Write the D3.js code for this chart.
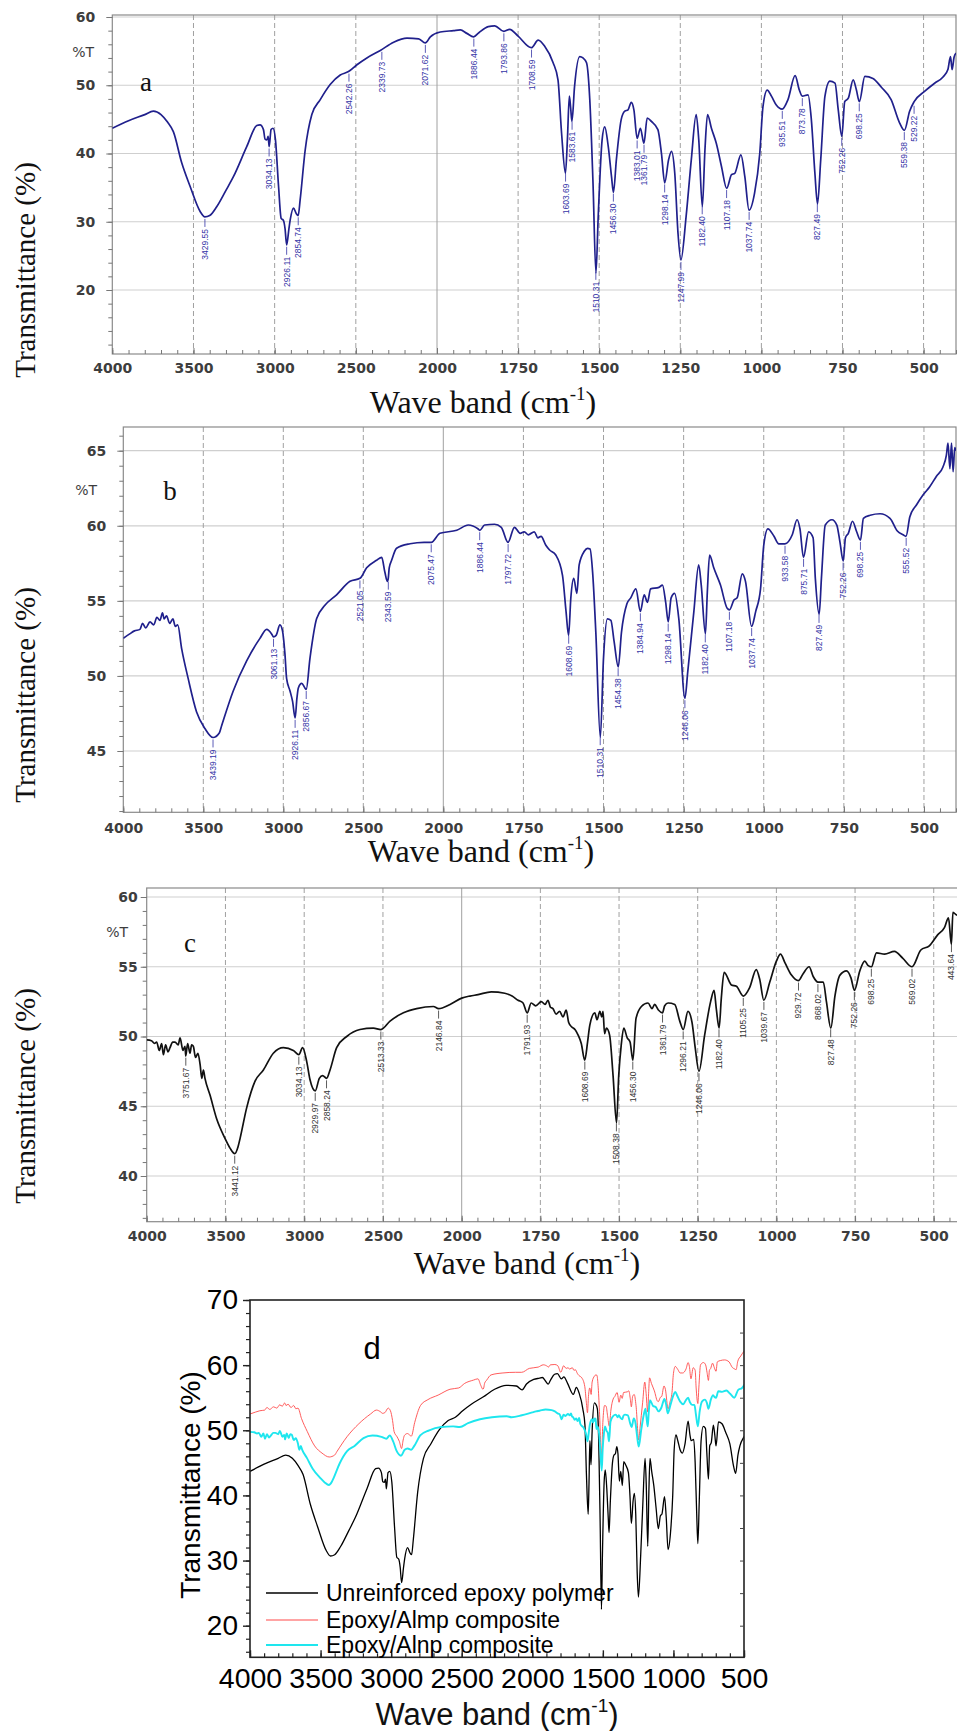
<!DOCTYPE html>
<html>
<head>
<meta charset="utf-8">
<script src="https://cdn.jsdelivr.net/npm/d3@7"></script>
<style>
body { margin: 0; background: #fff; }
svg { display: block; }
</style>
</head>
<body>
<div id="chart"></div>
<script>
// FTIR spectra: [wavenumber cm-1, %T]
var specA = [[4000,43.7],[3900,44.8],[3800,45.7],[3747,46.2],[3700,45.7],[3660,44.6],[3624,43.2],[3572,38.6],[3521,35.2],[3459,31.5],[3430,30.7],[3400,30.9],[3357,32.2],[3300,34.6],[3254,36.6],[3172,41],[3110,44.1],[3090,44.2],[3069,43.5],[3059,42.1],[3048,42.0],[3040,42.5],[3034,41.0],[3022,43.5],[3010,43.7],[2995,42],[2976,35.2],[2960,30.5],[2946,30.2],[2936,29],[2926,26.6],[2912,29],[2904,30.3],[2884,32],[2867,31.2],[2855,30.9],[2843,33.2],[2812,40.5],[2771,45.7],[2719,47.9],[2658,50.1],[2596,51.5],[2545,52],[2493,53],[2432,54],[2349,55.1],[2267,56.3],[2185,56.9],[2113,56.8],[2072,56.2],[2041,57.1],[1990,57.8],[1949,58],[1928,58.1],[1908,57.6],[1887,57.1],[1871,57.7],[1842,58.6],[1822,58.7],[1794,57.9],[1776,58.2],[1750,57.2],[1709,55.5],[1688,56.6],[1668,55.7],[1642,53.3],[1627,50.8],[1616,43],[1604,37.1],[1598,42],[1592,48.4],[1588,46.7],[1584,44.7],[1576,49.8],[1560,54.2],[1550,54],[1539,53.3],[1529,47.9],[1519,35.6],[1510,22.5],[1503,30.8],[1491,42],[1483,43.9],[1472,41],[1462,36.6],[1456,34.3],[1447,39.1],[1432,45],[1421,46.2],[1411,46.4],[1401,47.5],[1393,46.4],[1383,42.2],[1373,43.7],[1362,41.5],[1352,45.2],[1339,44.7],[1319,43.5],[1308,40],[1298,35.7],[1286,39.1],[1277,40.3],[1267,37.1],[1257,28.3],[1248,24.4],[1232,30.8],[1216,39.1],[1201,45.7],[1193,42],[1182,32.2],[1174,40.5],[1166,45.7],[1154,43.7],[1139,41.5],[1123,38.1],[1107,34.9],[1092,36.9],[1082,37.1],[1063,39.8],[1051,36.6],[1038,31.7],[1021,34.2],[1005,40],[995,46.9],[982,49.3],[969,48.4],[954,47.1],[936,46.5],[918,47.9],[896,51.4],[883,49.3],[874,48.4],[856,48.6],[846,45],[835,37.1],[827,32.6],[817,39.1],[804,48.4],[789,50.6],[773,50.3],[763,46.4],[752,42.5],[743,47.6],[732,48.1],[717,50.8],[707,49.3],[698,47.6],[681,51.3],[656,51],[630,49.7],[600,47.9],[574,44.5],[559,43.4],[543,46.2],[529,47.6],[497,49.1],[466,50.3],[440,51.2],[425,52.3],[417,54.2],[412,52.3],[406,54.1],[400,54.7]];

var specB = [[4000,52.5],[3960,52.8],[3930,53.0],[3896,53.1],[3880,53.5],[3860,53.2],[3833,53.6],[3810,53.4],[3790,53.9],[3771,53.7],[3755,54.2],[3745,53.8],[3730,54.0],[3710,53.5],[3690,53.8],[3675,53.3],[3660,53.4],[3635,51.8],[3594,49.8],[3542,47.6],[3490,46.5],[3439,45.9],[3400,46.2],[3385,46.7],[3313,49],[3229,51],[3146,52.5],[3104,53.1],[3073,52.8],[3061,52.6],[3045,52.7],[3021,53.4],[3005,53.0],[2990,51.5],[2979,49.8],[2958,49],[2942,48.3],[2926,47.2],[2915,48.5],[2906,49.2],[2885,49.5],[2865,49.2],[2857,49.1],[2833,51.2],[2792,53.8],[2740,54.7],[2667,55.4],[2583,56.3],[2521,56.5],[2479,57.2],[2417,57.7],[2385,57.9],[2365,56.9],[2350,56.3],[2344,56.5],[2338,57.2],[2323,57.7],[2292,58.5],[2208,58.8],[2120,58.9],[2075,58.9],[2021,59.5],[1958,59.7],[1922,60.05],[1892,59.8],[1886,59.7],[1871,60.05],[1840,60.1],[1819,59.9],[1798,58.9],[1778,59.9],[1760,59.5],[1747,59.6],[1735,59.4],[1716,59.6],[1705,59.2],[1695,59.3],[1680,58.7],[1669,58.4],[1649,58.05],[1628,56.7],[1617,54.3],[1609,52.7],[1602,55.2],[1593,56.5],[1583,55.5],[1576,57.4],[1560,58.3],[1550,58.5],[1542,58.45],[1534,56.9],[1524,52.9],[1510,45.9],[1500,51.2],[1488,53.8],[1477,53.7],[1467,52.3],[1454,50.6],[1444,52.9],[1427,54.8],[1415,55.2],[1399,55.8],[1385,54.3],[1373,55.4],[1363,54.9],[1353,55.8],[1327,55.9],[1316,56.05],[1306,54.9],[1298,53.6],[1289,55.2],[1278,55.5],[1265,53.8],[1246,48.5],[1237,50.3],[1218,54.3],[1203,57.4],[1195,56.05],[1182,52.8],[1176,55.6],[1169,58.05],[1156,57.2],[1135,56.05],[1114,54.5],[1107,54.4],[1093,55.05],[1083,55.2],[1067,56.8],[1057,56.3],[1038,53.3],[1025,54.3],[1010,55.8],[1000,58.7],[987,59.8],[968,59.3],[953,58.8],[934,58.8],[911,59.4],[896,60.4],[887,59.8],[876,57.9],[860,59.6],[846,59.2],[839,56.5],[827,54.1],[820,56.5],[808,60.05],[787,60.4],[772,60.05],[762,58.9],[752,57.65],[745,59.2],[736,59.5],[723,60.3],[710,59.6],[698,59.05],[689,60.5],[668,60.7],[637,60.8],[606,60.5],[583,59.65],[565,59.4],[556,59.3],[544,60.6],[523,61.4],[503,62.05],[482,62.6],[461,63.3],[441,63.9],[430,64.7],[425,65.5],[419,63.8],[414,65.5],[409,63.6],[404,65.2],[400,65.0]];

var specC = [[4000,49.76],[3970,49.7],[3950,49.5],[3937,49.6],[3920,49.0],[3905,49.5],[3894,48.7],[3880,49.4],[3865,48.9],[3852,49.2],[3835,49.6],[3820,49.6],[3800,49.4],[3788,49.9],[3770,49.0],[3757,49.3],[3752,48.6],[3740,49.5],[3725,48.8],[3715,49.4],[3704,49.3],[3690,48.5],[3675,48.8],[3661,48.0],[3650,47.0],[3640,47.6],[3630,47.0],[3598,45.8],[3556,44.1],[3503,42.7],[3471,42],[3441,41.6],[3420,42.1],[3407,42.7],[3365,44.9],[3312,46.8],[3259,47.6],[3196,48.8],[3132,49.2],[3069,49.0],[3034,48.7],[3010,49.2],[2984,48.2],[2963,46.9],[2930,46.1],[2904,47],[2883,47.2],[2858,47.0],[2836,47.6],[2794,49.2],[2730,50],[2646,50.5],[2561,50.6],[2513,50.5],[2455,51.1],[2370,51.7],[2286,52],[2180,52.15],[2147,52.0],[2074,52.3],[2000,52.75],[1974,52.9],[1948,53.0],[1906,53.2],[1863,53.1],[1840,52.9],[1821,52.6],[1805,52.4],[1792,51.7],[1779,52.4],[1765,52.2],[1747,52.5],[1735,52.3],[1726,52.6],[1718,52.1],[1710,52.0],[1700,51.6],[1689,51.8],[1678,51.4],[1668,51.9],[1660,51.0],[1651,50.7],[1640,50.5],[1630,50.1],[1620,49.5],[1609,48.3],[1600,49.6],[1593,50.8],[1577,51.7],[1570,51.2],[1561,51.8],[1555,51.4],[1551,51.8],[1546,50.2],[1540,50.6],[1530,50.1],[1519,47.2],[1508,43.8],[1501,47.2],[1493,49.4],[1485,50.6],[1474,49.9],[1465,49.6],[1456,48.3],[1446,51.3],[1429,52.15],[1408,52.4],[1395,52.0],[1387,52.3],[1375,51.9],[1362,51.7],[1355,52.2],[1344,52.4],[1323,52.3],[1307,51.1],[1296,50.5],[1281,51.8],[1268,51],[1258,49.2],[1246,47.5],[1228,50.1],[1209,52.5],[1198,53.3],[1191,52.0],[1182,50.6],[1175,52.75],[1166,54.6],[1143,53.7],[1127,53.6],[1105,52.9],[1085,53.5],[1064,54.8],[1053,54.1],[1040,52.6],[1021,53.9],[1000,55.4],[987,55.9],[973,55.3],[952,54.4],[930,54.0],[915,54.5],[896,55.0],[883,54.3],[868,53.9],[851,53.9],[841,52.5],[827,50.6],[814,52.9],[798,54.4],[777,54.7],[763,54.2],[752,53.3],[735,54.7],[719,55.4],[709,55.1],[698,55.0],[682,56.0],[656,55.9],[625,56.1],[598,55.6],[569,55.0],[541,56.2],[514,56.5],[487,57.3],[466,57.8],[453,58.5],[444,56.6],[439,58.9],[426,58.7],[400,58.8]];

// peak annotations printed by the instrument software
var peaksA = ['3429.55','3034.13','2926.11','2854.74','2542.26','2339.73','2071.62','1886.44','1793.86','1708.59','1603.69','1583.61','1510.31','1456.30','1383.01','1361.79','1298.14','1247.99','1182.40','1107.18','1037.74','935.51','873.78','827.49','752.26','698.25','559.38','529.22'];
var peaksB = ['3439.19','3061.13','2926.11','2856.67','2521.05','2343.59','2075.47','1886.44','1797.72','1608.69','1510.31','1454.38','1384.94','1298.14','1246.06','1182.40','1107.18','1037.74','933.58','875.71','827.49','752.26','698.25','555.52'];
var peaksC = ['3751.67','3441.12','3034.13','2929.97','2858.24','2513.33','2146.84','1791.93','1608.69','1508.38','1456.30','1361.79','1296.21','1246.06','1182.40','1105.25','1039.67','929.72','868.02','827.48','752.26','698.25','569.02','443.64'];

var xTicksIR = [4000,3500,3000,2500,2000,1750,1500,1250,1000,750,500];
var yTicksA = [20,30,40,50,60];
var yTicksB = [45,50,55,60,65];
var yTicksC = [40,45,50,55,60];
var xTicksD = [4000,3500,3000,2500,2000,1500,1000,500];
var yTicksD = [20,30,40,50,60,70];
var legendNames = ['Unreinforced epoxy polymer','Epoxy/Almp composite','Epoxy/Alnp composite'];

var W = 957, H = 1731;
var svg = d3.select('#chart').append('svg')
    .attr('width', W)
    .attr('height', H)
    .style('background', 'white');

var fmt = d3.format('d');

function valAt(spec, w) {
    for (var i = 0; i < spec.length - 1; i++) {
        var a = spec[i], b = spec[i + 1];
        if (w <= a[0] && w >= b[0]) {
            var t = (a[0] - w) / (a[0] - b[0]);
            return a[1] + t * (b[1] - a[1]);
        }
    }
    return spec[spec.length - 1][1];
}

function superTitle(g, x, y, font, size, supSize, rise) {
    var t = g.append('text')
        .attr('x', x).attr('y', y)
        .attr('text-anchor', 'middle')
        .style('font-family', font)
        .style('font-size', size + 'px')
        .attr('fill', '#111');
    t.append('tspan').text('Wave band (cm');
    t.append('tspan').attr('dy', -rise).style('font-size', supSize + 'px').text('-1');
    t.append('tspan').attr('dy', rise).text(')');
}

var serif = '"Liberation Serif","Times New Roman",serif';
var tickFont = '"DejaVu Sans",Verdana,sans-serif';

var irPanels = [
    {spec: specA, peaks: peaksA, yTicks: yTicksA, letter: 'a', left: 112.3, x2000: 437, right: 956, top: 15, bottom: 354,
     yRef: [20, 60], yPx: [290, 17], minor: 2, color: '#20208c', labelColor: '#3333a6', yPad: 11, xPad: 9,
     pctT: [94, 57], letterPos: [146, 91], yTitle: [35, 270], xTitle: [483, 413]},
    {spec: specB, peaks: peaksB, yTicks: yTicksB, letter: 'b', left: 123.3, x2000: 443.3, right: 956, top: 427, bottom: 812.3,
     yRef: [45, 65], yPx: [751, 450.7], minor: 1, color: '#20208c', labelColor: '#3333a6', yPad: 11, xPad: 10.5,
     pctT: [97, 495], letterPos: [170, 500], yTitle: [35, 695], xTitle: [481, 862]},
    {spec: specC, peaks: peaksC, yTicks: yTicksC, letter: 'c', left: 146.7, x2000: 461.7, right: 965.2, top: 888, bottom: 1221.7,
     yRef: [40, 60], yPx: [1176, 897], minor: 1, color: '#111', labelColor: '#333', yPad: 3, xPad: 9,
     pctT: [128, 937], letterPos: [190, 952], yTitle: [35, 1096], xTitle: [527, 1274]}
];

irPanels.forEach(function(p, idx) {
    var x = d3.scaleLinear().domain([4000, 2000, 400]).range([p.left, p.x2000, p.right]);
    var y = d3.scaleLinear().domain(p.yRef).range(p.yPx);
    var g = svg.append('g');

    var clipId = 'clipIR' + idx;
    g.append('clipPath').attr('id', clipId)
        .append('rect')
        .attr('x', p.left).attr('y', p.top)
        .attr('width', p.right - p.left).attr('height', p.bottom - p.top);

    // grid
    g.selectAll('.hgrid').data(p.yTicks).enter().append('line')
        .attr('x1', p.left).attr('x2', p.right)
        .attr('y1', function(d) { return y(d); }).attr('y2', function(d) { return y(d); })
        .attr('stroke', '#cfcfcf').attr('stroke-width', 1.2);
    g.selectAll('.vgrid').data(xTicksIR.slice(1)).enter().append('line')
        .attr('x1', function(d) { return x(d); }).attr('x2', function(d) { return x(d); })
        .attr('y1', p.top).attr('y2', p.bottom)
        .attr('stroke', '#a0a0a0')
        .attr('stroke-dasharray', function(d) { return d === 2000 ? null : '5,3'; });

    // frame
    g.append('rect')
        .attr('x', p.left).attr('y', p.top)
        .attr('width', p.right - p.left).attr('height', p.bottom - p.top)
        .attr('fill', 'none').attr('stroke', '#8a8a8a').attr('stroke-width', 1.2);

    // y axis
    var yLo = y.invert(p.bottom), yHi = y.invert(p.top);
    var yMinor = d3.range(Math.ceil(yLo / p.minor) * p.minor, yHi + 0.001, p.minor);
    g.append('g').attr('transform', 'translate(' + p.left + ',0)')
        .call(d3.axisLeft(y).tickValues(yMinor).tickSize(4).tickFormat(''))
        .call(function(a) { a.select('.domain').remove(); a.selectAll('line').attr('stroke', '#777'); });
    g.append('g').attr('transform', 'translate(' + p.left + ',0)')
        .call(d3.axisLeft(y).tickValues(p.yTicks).tickSize(6).tickPadding(p.yPad).tickFormat(fmt))
        .call(function(a) {
            a.select('.domain').remove();
            a.selectAll('line').attr('stroke', '#777');
            a.selectAll('text').style('font-family', tickFont).style('font-size', '14px')
                .style('font-weight', 'bold').attr('fill', '#3d3d3d');
        });

    // x axis (ticks point into the plot)
    var xMinor = d3.range(4000, 2000, -100).concat(d3.range(2000, 399, -50));
    g.append('g').attr('transform', 'translate(0,' + p.bottom + ')')
        .call(d3.axisBottom(x).tickValues(xMinor).tickSize(-4).tickFormat(''))
        .call(function(a) { a.select('.domain').remove(); a.selectAll('line').attr('stroke', '#777'); });
    g.append('g').attr('transform', 'translate(0,' + p.bottom + ')')
        .call(d3.axisBottom(x).tickValues(xTicksIR).tickSize(-6).tickPadding(p.xPad).tickFormat(fmt))
        .call(function(a) {
            a.select('.domain').remove();
            a.selectAll('line').attr('stroke', '#777');
            a.selectAll('text').style('font-family', tickFont).style('font-size', '14px')
                .style('font-weight', 'bold').attr('fill', '#3d3d3d');
        });

    // spectrum
    var line = d3.line()
        .x(function(d) { return x(d[0]); })
        .y(function(d) { return y(d[1]); })
        .curve(d3.curveMonotoneX);
    g.append('path').datum(p.spec)
        .attr('d', line)
        .attr('clip-path', 'url(#' + clipId + ')')
        .attr('fill', 'none')
        .attr('stroke', p.color)
        .attr('stroke-width', 1.7);

    // peak labels
    p.peaks.forEach(function(s) {
        var w = +s;
        var v = Math.min(valAt(p.spec, w), valAt(p.spec, w - 3), valAt(p.spec, w + 3));
        var px = x(w), py = y(v) + 2;
        g.append('line')
            .attr('x1', px).attr('x2', px).attr('y1', py).attr('y2', py + 8)
            .attr('stroke', p.labelColor).attr('stroke-width', 0.8);
        g.append('text')
            .attr('transform', 'translate(' + px + ',' + (py + 10) + ') rotate(-90)')
            .attr('text-anchor', 'end')
            .attr('dy', '0.35em')
            .style('font-family', '"Liberation Sans",Arial,sans-serif')
            .style('font-size', '8.5px')
            .attr('fill', p.labelColor)
            .text(s);
    });

    // labels
    g.append('text')
        .attr('x', p.pctT[0]).attr('y', p.pctT[1])
        .attr('text-anchor', 'end')
        .style('font-family', tickFont).style('font-size', '14px')
        .attr('fill', '#3d3d3d')
        .text('%T');
    g.append('text')
        .attr('x', p.letterPos[0]).attr('y', p.letterPos[1])
        .attr('text-anchor', 'middle')
        .style('font-family', serif).style('font-size', '27px')
        .attr('fill', '#111')
        .text(p.letter);
    g.append('text')
        .attr('transform', 'translate(' + p.yTitle[0] + ',' + p.yTitle[1] + ') rotate(-90)')
        .attr('text-anchor', 'middle')
        .style('font-family', serif).style('font-size', '29px')
        .attr('fill', '#111')
        .text('Transmittance (%)');
    superTitle(g, p.xTitle[0], p.xTitle[1], serif, 32, 19, 13);
});

// panel d: overlay of the three spectra
var dBox = {left: 250, right: 744, top: 1300, bottom: 1657.3};
var xd = d3.scaleLinear().domain([4000, 500]).range([dBox.left, dBox.right]);
var yd = d3.scaleLinear().domain([20, 70]).range([1625.7, dBox.top]);
var gd = svg.append('g');
var sans = '"Liberation Sans",Arial,sans-serif';

gd.append('clipPath').attr('id', 'clipD')
    .append('rect')
    .attr('x', dBox.left).attr('y', dBox.top)
    .attr('width', dBox.right - dBox.left).attr('height', dBox.bottom - dBox.top);

var lineD = d3.line()
    .x(function(d) { return xd(d[0]); })
    .y(function(d) { return yd(d[1]); })
    .curve(d3.curveMonotoneX);

var dSeries = [
    {spec: specA, color: '#000', width: 1.3},
    {spec: specB, color: '#ff4a4a', width: 0.9},
    {spec: specC, color: '#1ee6ee', width: 1.9}
];

dSeries.forEach(function(s) {
    gd.append('path').datum(s.spec)
        .attr('d', lineD)
        .attr('clip-path', 'url(#clipD)')
        .attr('fill', 'none')
        .attr('stroke', s.color)
        .attr('stroke-width', s.width);
});

gd.append('rect')
    .attr('x', dBox.left).attr('y', dBox.top)
    .attr('width', dBox.right - dBox.left).attr('height', dBox.bottom - dBox.top)
    .attr('fill', 'none').attr('stroke', '#222').attr('stroke-width', 1.6);

var yLoD = yd.invert(dBox.bottom);
gd.append('g').attr('transform', 'translate(' + dBox.left + ',0)')
    .call(d3.axisLeft(yd).tickValues(d3.range(Math.ceil(yLoD / 2) * 2, 70.01, 2)).tickSize(4).tickFormat(''))
    .call(function(a) { a.select('.domain').remove(); a.selectAll('line').attr('stroke', '#222').attr('stroke-width', 1.2); });
gd.append('g').attr('transform', 'translate(' + dBox.left + ',0)')
    .call(d3.axisLeft(yd).tickValues(yTicksD).tickSize(7).tickPadding(5).tickFormat(fmt))
    .call(function(a) {
        a.select('.domain').remove();
        a.selectAll('line').attr('stroke', '#222').attr('stroke-width', 1.4);
        a.selectAll('text').style('font-family', sans).style('font-size', '28px').attr('fill', '#000');
    });
gd.append('g').attr('transform', 'translate(' + dBox.right + ',0)')
    .call(d3.axisRight(yd).tickValues(d3.range(20, 70, 5)).tickSize(-4).tickFormat(''))
    .call(function(a) { a.select('.domain').remove(); a.selectAll('line').attr('stroke', '#444'); });

gd.append('g').attr('transform', 'translate(0,' + dBox.bottom + ')')
    .call(d3.axisBottom(xd).tickValues(d3.range(4000, 499, -100)).tickSize(-4).tickFormat(''))
    .call(function(a) { a.select('.domain').remove(); a.selectAll('line').attr('stroke', '#222').attr('stroke-width', 1.2); });
gd.append('g').attr('transform', 'translate(0,' + dBox.bottom + ')')
    .call(d3.axisBottom(xd).tickValues(xTicksD).tickSize(-7).tickPadding(10).tickFormat(fmt))
    .call(function(a) {
        a.select('.domain').remove();
        a.selectAll('line').attr('stroke', '#222').attr('stroke-width', 1.4);
        a.selectAll('text').style('font-family', sans).style('font-size', '28.5px').attr('fill', '#000');
    });

gd.append('text')
    .attr('x', 372).attr('y', 1359)
    .attr('text-anchor', 'middle')
    .style('font-family', sans).style('font-size', '31px')
    .text('d');

gd.append('text')
    .attr('transform', 'translate(200,1485) rotate(-90)')
    .attr('text-anchor', 'middle')
    .style('font-family', sans).style('font-size', '28px')
    .attr('fill', '#000')
    .text('Transmittance (%)');
superTitle(gd, 497, 1725, sans, 31, 19, 13);

// legend
var legend = gd.selectAll('.leg').data(dSeries).enter().append('g')
    .attr('transform', function(d, i) { return 'translate(266,' + [1593, 1620, 1645][i] + ')'; });
legend.append('line')
    .attr('x1', 0).attr('x2', 52)
    .attr('stroke', function(d) { return d.color; })
    .attr('stroke-width', function(d) { return d.width + 0.3; });
legend.append('text')
    .attr('x', 60).attr('dy', '0.35em')
    .style('font-family', sans).style('font-size', '23px')
    .attr('fill', '#000')
    .text(function(d, i) { return legendNames[i]; });
</script>
</body>
</html>
